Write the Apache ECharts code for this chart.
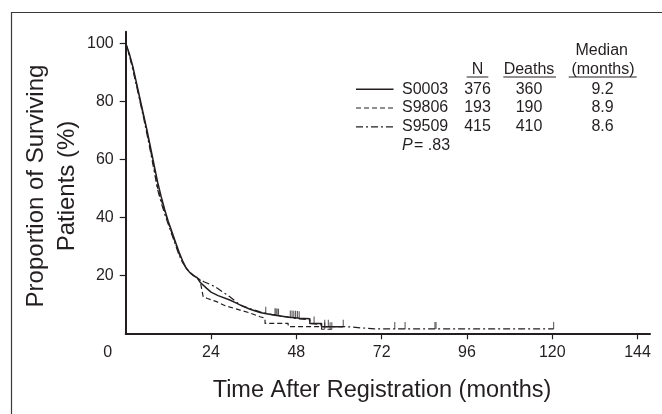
<!DOCTYPE html>
<html>
<head>
<meta charset="utf-8">
<script src="https://cdn.jsdelivr.net/npm/echarts@6/dist/echarts.min.js"></script>
<style>
html, body { margin: 0; padding: 0; background: #fff; }
#content { width: 662px; height: 414px; }
</style>
</head>
<body>
<div id="content"></div>
<script>
// 数据
var seriesNames = ['S0003', 'S9806', 'S9509'];
var nPatients = [376, 193, 415];
var nDeaths = [360, 190, 410];
var medianMonths = ['9.2', '8.9', '8.6'];
var pValue = '.83';
var xTicks = [0, 24, 48, 72, 96, 120, 144];
var yTicks = [20, 40, 60, 80, 100];

// S0003 (实线)
var s0003Months = [0, 1, 2, 3, 4, 5, 6, 7, 8, 9, 10, 11, 12, 13, 14, 15, 16, 17, 18, 19, 20, 21, 22.8, 24, 26, 29.3, 31, 33, 35, 37.8, 39.2, 42, 46, 49, 51.8, 51.8, 55.1, 55.1, 61.2];
var s0003Surv = [100, 96.5, 92, 86.5, 81, 75.5, 70, 64, 58, 52, 47, 42.5, 38.5, 35, 31.5, 28, 25, 22.5, 21, 20, 19.3, 17.5, 15.5, 14.2, 13, 11.5, 10.5, 9.3, 8.3, 7.2, 6.8, 6.2, 5.5, 5.2, 5.0, 3.4, 3.4, 2.3, 2.3];
var s0003Censor = [39.4, 42, 42.3, 42.6, 43, 46.3, 46.8, 47.3, 47.8, 48.3, 48.8, 53, 56, 57, 61.2];

// S9806 (虚线)
var s9806Months = [0, 1, 2, 3, 4, 5, 6, 7, 8, 9, 10, 11, 12, 13, 14, 15, 16, 17, 18, 19, 20, 20.9, 21.8, 23, 25.6, 28, 32.2, 35, 37.8, 39.2, 39.2, 45.7, 45.7, 55.1, 55.1, 58];
var s9806Surv = [100, 96, 91.5, 86, 80.5, 75, 69.5, 63, 57, 50, 46, 42, 38, 34.5, 31, 27.5, 24.5, 22.5, 21, 20, 19.3, 18.4, 12.6, 12, 10.9, 9.5, 8, 7, 5.7, 5.2, 3.4, 3.4, 2.3, 2.3, 1.4, 1.4];
var s9806Censor = [56, 57.5, 58];

// S9509 (点划线)
var s9509Months = [0, 1, 2, 3, 4, 5, 6, 7, 8, 9, 10, 11, 12, 13, 14, 15, 16, 17, 18, 19, 20, 22, 25.1, 27, 29.3, 32.2, 35, 37.8, 40, 44, 48, 51.8, 51.8, 55, 55, 62, 66, 70, 120.4];
var s9509Surv = [100, 96, 91, 85.5, 80, 74.5, 68.5, 62.5, 56, 49.5, 45, 41, 37.5, 34, 30.5, 27, 24.5, 22.5, 21, 20, 19, 17.8, 16.1, 14.5, 12.6, 9.8, 8.5, 7.4, 6.7, 5.9, 5.1, 4.6, 3.4, 3.0, 2.3, 2.3, 1.9, 1.5, 1.5];
var s9509Censor = [75.7, 78.6, 87, 87.3, 120.4];

var curveMonths = [s0003Months, s9806Months, s9509Months];
var curveSurv = [s0003Surv, s9806Surv, s9509Surv];
var curveCensor = [s0003Censor, s9806Censor, s9509Censor];

var ink = '#231f20';
var fontName = '"Liberation Sans", Arial, sans-serif';
var dashes = ['solid', [5, 3], [7, 3, 2, 3]];
var widths = [1.5, 1.2, 1.2];

function pairs(xs, ys) {
    var out = [];
    for (var i = 0; i < xs.length; i++) out.push([xs[i], ys[i]]);
    return out;
}

// 删失点的纵坐标取曲线在该时间的值
function survAt(xs, ys, t) {
    for (var i = xs.length - 1; i > 0; i--) {
        if (t >= xs[i - 1] && t <= xs[i] && xs[i] > xs[i - 1]) {
            return ys[i - 1] + (ys[i] - ys[i - 1]) * (t - xs[i - 1]) / (xs[i] - xs[i - 1]);
        }
    }
    return ys[ys.length - 1];
}

var series = [];
for (var k = 0; k < seriesNames.length; k++) {
    series.push({
        name: seriesNames[k],
        type: 'line',
        data: pairs(curveMonths[k], curveSurv[k]),
        showSymbol: false,
        silent: true,
        lineStyle: { color: ink, width: widths[k], type: dashes[k] },
        z: 3
    });
    var marks = [];
    for (var c = 0; c < curveCensor[k].length; c++) {
        var t = curveCensor[k][c];
        marks.push([t, survAt(curveMonths[k], curveSurv[k], t)]);
    }
    series.push({
        name: seriesNames[k] + ' censored',
        type: 'scatter',
        data: marks,
        symbol: 'rect',
        symbolSize: [1, 7],
        symbolOffset: [0, -3.5],
        itemStyle: { color: ink },
        silent: true,
        z: 4
    });
}

// 图例表格
var graphics = [];
graphics.push({
    type: 'rect', left: null, shape: { x: 11.5, y: 12.5, width: 700, height: 450 },
    style: { fill: 'none', stroke: '#3a3a3a', lineWidth: 1.2 }, silent: true
});

function txt(s, x, y, align, size, extra) {
    var st = {
        text: s, x: x, y: y, fill: ink,
        font: (extra && extra.italic ? 'italic ' : '') + size + 'px ' + fontName,
        align: align, textAlign: align, verticalAlign: 'middle', textVerticalAlign: 'middle'
    };
    return { type: 'text', style: st, silent: true };
}

var colN = 477.5, colD = 529, colM = 602.5, nameX = 402;
var rowY = [89.3, 108, 126.8];
graphics.push(txt('Median', 601.7, 50.7, 'center', 16));
graphics.push(txt('N', colN, 69.5, 'center', 16));
graphics.push(txt('Deaths', colD, 69.5, 'center', 16));
graphics.push(txt('(months)', 603, 69.5, 'center', 16));
var underlines = [[466.7, 488.3], [503.3, 556], [568.7, 636.7]];
for (var u = 0; u < underlines.length; u++) {
    graphics.push({
        type: 'line', silent: true,
        shape: { x1: underlines[u][0], y1: 77, x2: underlines[u][1], y2: 77 },
        style: { stroke: ink, lineWidth: 1 }
    });
}
for (var r = 0; r < seriesNames.length; r++) {
    graphics.push({
        type: 'line', silent: true,
        shape: { x1: 356, y1: rowY[r], x2: 393.5, y2: rowY[r] },
        style: { stroke: ink, lineWidth: widths[r], lineDash: dashes[r] === 'solid' ? null : dashes[r] }
    });
    graphics.push(txt(seriesNames[r], nameX, rowY[r], 'left', 16));
    graphics.push(txt(String(nPatients[r]), colN, rowY[r], 'center', 16));
    graphics.push(txt(String(nDeaths[r]), colD, rowY[r], 'center', 16));
    graphics.push(txt(medianMonths[r], colM, rowY[r], 'center', 16));
}
graphics.push(txt('P', nameX, 146, 'left', 16, { italic: true }));
graphics.push(txt('= .83'.replace('.83', pValue), 414, 146, 'left', 16));

// 坐标轴标题
graphics.push({
    type: 'text', silent: true, x: 52, y: 186, rotation: Math.PI / 2,
    style: {
        text: 'Proportion of Surviving\nPatients (%)', x: 0, y: 0, fill: ink,
        font: '24px ' + fontName, lineHeight: 31.5,
        align: 'center', textAlign: 'center', verticalAlign: 'middle', textVerticalAlign: 'middle'
    }
});
graphics.push(txt('Time After Registration (months)', 382, 391, 'center', 23.5));

var myChart = echarts.init(document.getElementById('content'), null, { renderer: 'canvas' });
var option = {
    animation: false,
    backgroundColor: '#fff',
    grid: { left: 125.7, right: 12, top: 31.7, bottom: 80.7, containLabel: false },
    xAxis: {
        type: 'value', min: 0, max: 147.5,
        axisLine: { show: true, lineStyle: { color: ink, width: 2 } },
        axisTick: { show: true, length: 6, lineStyle: { color: ink, width: 1.2 }, customValues: xTicks.slice(1) },
        axisLabel: {
            customValues: xTicks, margin: 11, color: ink, fontSize: 16, fontFamily: fontName,
            formatter: function (v) { return v === 0 ? '{z|0}' : String(v); },
            rich: { z: { padding: [0, 36, 0, 0], fontSize: 16, fontFamily: fontName, color: ink } }
        },
        splitLine: { show: false }
    },
    yAxis: {
        type: 'value', min: 0, max: 104,
        axisLine: { show: true, lineStyle: { color: ink, width: 2 } },
        axisTick: { show: true, length: 6, lineStyle: { color: ink, width: 1.2 }, customValues: yTicks },
        axisLabel: { customValues: yTicks, margin: 12, color: ink, fontSize: 16, fontFamily: fontName },
        splitLine: { show: false }
    },
    graphic: graphics,
    series: series
};
myChart.setOption(option);
</script>
</body>
</html>
